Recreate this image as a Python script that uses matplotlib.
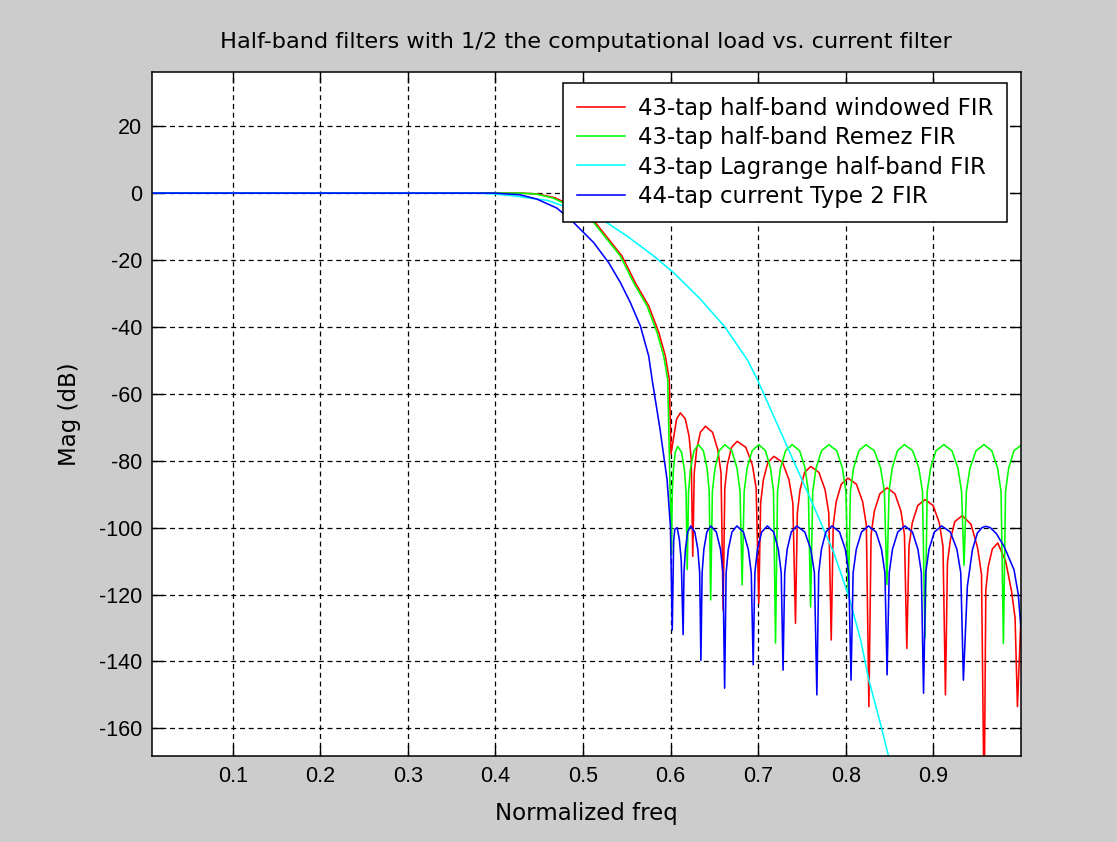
import numpy as np
import matplotlib
matplotlib.use("Agg")
import matplotlib.pyplot as plt

plt.rcParams['font.family'] = ['Liberation Sans', 'DejaVu Sans']
plt.rcParams['axes.unicode_minus'] = False

# magnitude responses (normalized freq, dB)
red_f = [0.0078, 0.40, 0.43, 0.449, 0.468, 0.492, 0.514, 0.5293, 0.5445, 0.5597, 0.575, 0.5866, 0.594, 0.5985, 0.6005,
         0.6037, 0.6069, 0.6112, 0.6168, 0.6211, 0.6236, 0.6253,
         0.6270, 0.6297, 0.634, 0.6398, 0.6479, 0.6539, 0.6576, 0.66,
         0.6619, 0.6648, 0.6696, 0.676, 0.6859, 0.6933, 0.6977, 0.7007,
         0.7028, 0.7059, 0.7111, 0.718, 0.7278, 0.7352, 0.7396, 0.7426,
         0.7447, 0.7478, 0.753, 0.760, 0.7694, 0.7764, 0.7806, 0.7834,
         0.7857, 0.7891, 0.7949, 0.8025, 0.8121, 0.8192, 0.8235, 0.8264,
         0.8289, 0.8326, 0.8389, 0.8472, 0.8562, 0.863, 0.867, 0.8697,
         0.8722, 0.8759, 0.8822, 0.8905, 0.8998, 0.9068, 0.911, 0.9138,
         0.9161, 0.9196, 0.9245, 0.933, 0.943, 0.9505, 0.955, 0.958,
         0.9599, 0.9627, 0.9673, 0.9735, 0.9825, 0.9893, 0.9933, 0.996,
         1.0]
red_db = [0, 0, 0, -0.3, -1.4, -4.4, -8.8, -13.8, -18.8, -26.8, -33.7, -41.7, -48.7, -55.7, -78,
          -72.7, -67.5, -65.7, -67.5, -72.7, -79.7, -108.6,
          -83.7, -76.7, -71.5, -69.7, -71.5, -76.7, -83.7, -124.6,
          -88.2, -81.2, -76.0, -74.2, -76.0, -81.2, -88.2, -122.6,
          -92.7, -85.7, -80.5, -78.7, -80.5, -85.7, -92.7, -128.6,
          -95.7, -88.7, -83.5, -81.7, -83.5, -88.7, -95.7, -133.6,
          -99.2, -92.2, -87.0, -85.2, -87.0, -92.2, -99.2, -153.5,
          -102.1, -95.1, -89.9, -88.1, -89.9, -95.1, -102.1, -136.1,
          -105.6, -98.6, -93.4, -91.6, -93.4, -98.6, -105.6, -150,
          -110.4, -103.4, -98.2, -96.4, -99.0, -106.0, -114.0, -185,
          -118.6, -111.6, -106.4, -104.6, -110.0, -119.0, -127.0, -153.5,
          -127]

green_f = [0.0078, 0.40, 0.428, 0.447, 0.466, 0.49, 0.5122, 0.5274, 0.5426, 0.5578, 0.5731, 0.5846, 0.5921, 0.5967, 0.601,
           0.6019, 0.6032, 0.6053, 0.6082, 0.6125, 0.6158, 0.6177, 0.619,
           0.6205, 0.6228, 0.6267, 0.6318, 0.6374, 0.6416, 0.6441, 0.6458,
           0.6477, 0.6507, 0.6555, 0.662, 0.6699, 0.6758, 0.6793, 0.6817,
           0.6840, 0.6874, 0.6931, 0.7007, 0.7083, 0.7141, 0.7175, 0.7198,
           0.7221, 0.7255, 0.7313, 0.7389, 0.7473, 0.7535, 0.7573, 0.7598,
           0.7623, 0.7661, 0.7723, 0.7807, 0.7896, 0.7962, 0.8002, 0.8029,
           0.8053, 0.8089, 0.815, 0.823, 0.8326, 0.8398, 0.8441, 0.847,
           0.8494, 0.853, 0.859, 0.867, 0.8764, 0.8834, 0.8876, 0.8904,
           0.893, 0.8969, 0.903, 0.912, 0.9212, 0.9281, 0.9322, 0.935,
           0.9377, 0.9418, 0.9487, 0.9578, 0.9667, 0.9733, 0.9773, 0.98,
           0.9824, 0.986, 0.992, 1.0]
green_db = [0, 0, 0, -0.3, -1.5, -4.5, -8.8, -13.8, -18.8, -26.8, -33.7, -41.7, -48.7, -55.7, -108,
            -89.7, -82.7, -77.5, -75.7, -77.5, -82.7, -89.7, -112.5,
            -89.2, -82.2, -77.0, -75.2, -77.0, -82.2, -89.2, -121.6,
            -89.2, -82.2, -77.0, -75.2, -77.0, -82.2, -89.2, -117.1,
            -89.2, -82.2, -77.0, -75.2, -77.0, -82.2, -89.2, -134.5,
            -89.2, -82.2, -77.0, -75.2, -77.0, -82.2, -89.2, -123.7,
            -89.2, -82.2, -77.0, -75.2, -77.0, -82.2, -89.2, -120.6,
            -89.2, -82.2, -77.0, -75.2, -77.0, -82.2, -89.2, -117.0,
            -89.2, -82.2, -77.0, -75.2, -77.0, -82.2, -89.2, -133.0,
            -89.2, -82.2, -77.0, -75.2, -77.0, -82.2, -89.2, -111.3,
            -89.2, -82.2, -77.0, -75.2, -77.0, -82.2, -89.2, -134.6,
            -89.2, -82.2, -77.0, -75.4]

cyan_f = [0.0078, 0.38, 0.40, 0.42, 0.46, 0.50, 0.527, 0.550, 0.5807, 0.6035, 0.634, 0.662, 0.688, 0.699,
          0.733, 0.760, 0.7865, 0.8035, 0.817, 0.8264, 0.839, 0.849, 0.86]
cyan_db = [0, 0, -0.3, -0.8, -2.2, -6.0, -8.8, -12.8, -18.8, -23.8, -31.7, -40, -50, -55.7,
           -75.7, -91.6, -107.6, -120.6, -133.6, -145.6, -158, -168.5, -182]

blue_f = [0.0078, 0.39, 0.398, 0.428, 0.4474, 0.4703, 0.4874, 0.4969, 0.5122, 0.5293, 0.5426, 0.554, 0.5655, 0.575,
          0.5789, 0.588, 0.596, 0.5998, 0.6019,
          0.6035, 0.6048, 0.6075, 0.6100, 0.6122, 0.6143,
          0.6153, 0.6169, 0.6195, 0.623, 0.6276, 0.6311, 0.6332, 0.6346,
          0.636, 0.638, 0.6414, 0.6459, 0.6522, 0.6570, 0.6598, 0.6617,
          0.6634, 0.6659, 0.6701, 0.6757, 0.6831, 0.6887, 0.6921, 0.6943,
          0.6962, 0.6992, 0.704, 0.7105, 0.7177, 0.723, 0.7263, 0.7284,
          0.7303, 0.7331, 0.7378, 0.744, 0.7532, 0.7601, 0.7642, 0.767,
          0.7691, 0.7722, 0.7773, 0.7842, 0.7929, 0.7995, 0.8034, 0.806,
          0.8084, 0.812, 0.818, 0.826, 0.8345, 0.8408, 0.8447, 0.8472,
          0.8496, 0.8533, 0.8594, 0.8676, 0.8761, 0.8824, 0.8863, 0.8888,
          0.8913, 0.895, 0.9012, 0.9095, 0.9194, 0.9269, 0.9313, 0.9343,
          0.9388, 0.9446, 0.9503, 0.9555, 0.9598, 0.965, 0.972, 0.9807, 0.9921, 0.997, 1.0]
blue_db = [0, 0, 0, -0.5, -1.8, -4.5, -8.3, -10.8, -14.8, -20.8, -26.7, -32.7, -39.7, -48.7,
           -55.7, -70.7, -85.7, -99.6, -130.6,
           -104, -100.5, -100, -103.5, -110, -132,
           -113.5, -106.5, -101.3, -99.5, -101.3, -106.5, -113.5, -139.7,
           -113.5, -106.5, -101.3, -99.5, -101.3, -106.5, -113.5, -148,
           -113.5, -106.5, -101.3, -99.5, -101.3, -106.5, -113.5, -141,
           -113.5, -106.5, -101.3, -99.5, -101.3, -106.5, -113.5, -142.6,
           -113.5, -106.5, -101.3, -99.5, -101.3, -106.5, -113.5, -150,
           -113.5, -106.5, -101.3, -99.5, -101.3, -106.5, -113.5, -145.6,
           -113.5, -106.5, -101.3, -99.5, -101.3, -106.5, -113.5, -144,
           -113.5, -106.5, -101.3, -99.5, -101.3, -106.5, -113.5, -149.5,
           -113.5, -106.5, -101.3, -99.5, -101.3, -106.5, -113.5, -145.6,
           -117.6, -106.6, -101.6, -100.0, -99.6, -100.0, -101.8, -105.6, -112.6, -120, -130]

labels = ["43-tap half-band windowed FIR", "43-tap half-band Remez FIR",
          "43-tap Lagrange half-band FIR", "44-tap current Type 2 FIR"]
xticks = [0.1, 0.2, 0.3, 0.4, 0.5, 0.6, 0.7, 0.8, 0.9]
yticks = [20, 0, -20, -40, -60, -80, -100, -120, -140, -160]

text_font = ['DejaVu Sans']
fig = plt.figure(figsize=(11.17, 8.42), dpi=100, facecolor="#cccccc")
ax = fig.add_axes([0.136, 0.102, 0.778, 0.8125])
ax.set_facecolor("white")

lw = 1.15
ax.plot(red_f, red_db, color="#ff0000", lw=lw, label=labels[0])
ax.plot(green_f, green_db, color="#00ff00", lw=lw, label=labels[1])
ax.plot(cyan_f, cyan_db, color="#00ffff", lw=lw, label=labels[2])
ax.plot(blue_f, blue_db, color="#0000ff", lw=lw, label=labels[3])

ax.set_xlim(1 / 128, 1.0)
ax.set_ylim(-168.3, 36.2)
ax.set_xticks(xticks)
ax.set_yticks(yticks)
ax.tick_params(direction="in", length=8, width=1.0, top=True, right=True,
               labelsize=15.5, pad=7, colors="black")
ax.grid(True, color="black", linestyle=(0, (4, 3)), linewidth=0.9)
ax.set_axisbelow(True)
for s in ax.spines.values():
    s.set_linewidth(1.1)
    s.set_color("black")

ax.set_title("Half-band filters with 1/2 the computational load vs. current filter",
             fontsize=16.2, family=text_font, pad=17)
ax.set_xlabel("Normalized freq", fontsize=16.5, family=text_font, labelpad=11)
ax.set_ylabel("Mag (dB)", fontsize=16.5, family=text_font, labelpad=13)

leg = ax.legend(loc="upper right", bbox_to_anchor=(0.984, 0.984), borderaxespad=0,
                prop={'family': text_font, 'size': 16.5},
                fancybox=False, framealpha=1, edgecolor="black",
                handlelength=2.1, handletextpad=0.55, labelspacing=0.28, borderpad=0.6)
leg.get_frame().set_linewidth(1.1)

fig.savefig("out.png", dpi=100, facecolor=fig.get_facecolor())
